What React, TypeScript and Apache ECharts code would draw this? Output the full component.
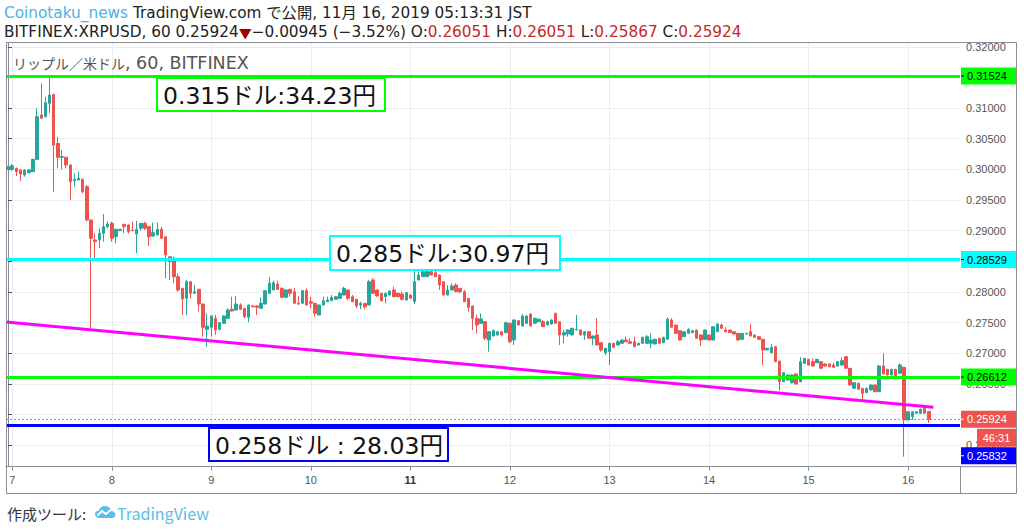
import React, { useEffect, useRef } from "react";
import * as echarts from "echarts";

// ---------- data ----------
const startDay = 6; // first candle: Nov 6, 23:00
const startHour = 23;
const slotCount = 230; // hourly slots visible on the time axis
const dayLabels = ["7", "8", "9", "10", "11", "12", "13", "14", "15", "16"];
const boldDay = "11";
const priceTicks = [0.255, 0.26, 0.265, 0.27, 0.275, 0.28, 0.285, 0.29, 0.295, 0.3, 0.305, 0.31, 0.315, 0.32];
// tick labels fully covered by the coloured price tags in the original
const hiddenTickLabels = [0.26, 0.285, 0.315];
const priceMin = 0.2515;
const priceMax = 0.32062;

// hourly candles: [open, close, low, high]
const candles: number[][] = [
  [0.30001, 0.30044, 0.2999, 0.3006], [0.3, 0.3006, 0.2998, 0.3009], [0.30017, 0.29963, 0.29892, 0.3003],
  [0.2999, 0.29925, 0.29811, 0.3], [0.29909, 0.2999, 0.29881, 0.3], [0.29946, 0.2999, 0.2994, 0.3],
  [0.29963, 0.30164, 0.2996, 0.3017], [0.30164, 0.3086, 0.3015, 0.30996], [0.30887, 0.30833, 0.3082, 0.31404],
  [0.3086, 0.31088, 0.3085, 0.31186], [0.31078, 0.31214, 0.30915, 0.31512], [0.31225, 0.30398, 0.29636, 0.3123],
  [0.30425, 0.30197, 0.30017, 0.30534], [0.30197, 0.30207, 0.30001, 0.30316], [0.30197, 0.30072, 0.30017, 0.3021],
  [0.30072, 0.298, 0.29501, 0.3008], [0.29816, 0.29838, 0.29718, 0.29936], [0.29827, 0.29855, 0.2982, 0.29963],
  [0.29838, 0.29636, 0.29608, 0.2985], [0.29718, 0.29175, 0.2915, 0.29745], [0.29175, 0.28876, 0.27408, 0.2918],
  [0.28848, 0.2882, 0.2855, 0.28957], [0.28848, 0.28957, 0.28713, 0.29039], [0.28957, 0.29066, 0.2882, 0.29272],
  [0.29066, 0.29109, 0.2904, 0.2915], [0.2912, 0.28876, 0.2882, 0.29147], [0.28902, 0.29023, 0.28794, 0.2903],
  [0.29, 0.29023, 0.28995, 0.2903], [0.29104, 0.29066, 0.28957, 0.2911], [0.29093, 0.28984, 0.28957, 0.29104],
  [0.29011, 0.29, 0.2899, 0.29147], [0.28946, 0.29023, 0.28631, 0.29163], [0.29039, 0.2912, 0.29, 0.29125],
  [0.2912, 0.29039, 0.29011, 0.29147], [0.29066, 0.28902, 0.28751, 0.2907], [0.28914, 0.28968, 0.28902, 0.29131],
  [0.2893, 0.29023, 0.2892, 0.29131], [0.29023, 0.28876, 0.2887, 0.29066], [0.28902, 0.28604, 0.28224, 0.2891],
  [0.28576, 0.28495, 0.28196, 0.2858], [0.28549, 0.28249, 0.28142, 0.28576], [0.28249, 0.28033, 0.28005, 0.28305],
  [0.2806, 0.27886, 0.27625, 0.2807], [0.27897, 0.28168, 0.27625, 0.28196], [0.28168, 0.27979, 0.27897, 0.2817],
  [0.27979, 0.28005, 0.2797, 0.28114], [0.28044, 0.27804, 0.27679, 0.2805], [0.27804, 0.27424, 0.27271, 0.2781],
  [0.27391, 0.27445, 0.27108, 0.27652], [0.27424, 0.27609, 0.27271, 0.2762], [0.27571, 0.2738, 0.27299, 0.27625],
  [0.27391, 0.27499, 0.2738, 0.2751], [0.27489, 0.27609, 0.2748, 0.2762], [0.27571, 0.27706, 0.2756, 0.27734],
  [0.27718, 0.2769, 0.2768, 0.27923], [0.27706, 0.27804, 0.277, 0.27935], [0.27788, 0.27718, 0.2771, 0.27816],
  [0.27734, 0.27597, 0.27571, 0.2774], [0.27587, 0.27788, 0.27506, 0.27795], [0.27772, 0.2776, 0.2775, 0.2779],
  [0.27772, 0.2775, 0.27625, 0.2778], [0.27734, 0.27816, 0.2773, 0.27913], [0.27804, 0.28021, 0.278, 0.2803],
  [0.27979, 0.28142, 0.2797, 0.2824], [0.28033, 0.28152, 0.2803, 0.28185], [0.2813, 0.28044, 0.2804, 0.28185],
  [0.2806, 0.27913, 0.2791, 0.28076], [0.27913, 0.28033, 0.27905, 0.2804], [0.28044, 0.27979, 0.27923, 0.2805],
  [0.28005, 0.27816, 0.2781, 0.2806], [0.27816, 0.27804, 0.27788, 0.27935], [0.27816, 0.28021, 0.2781, 0.2803],
  [0.28021, 0.27788, 0.2778, 0.2806], [0.27842, 0.27816, 0.27734, 0.27923], [0.27816, 0.27652, 0.27597, 0.2782],
  [0.27625, 0.27788, 0.2762, 0.27795], [0.27788, 0.27858, 0.2778, 0.27923], [0.27842, 0.2787, 0.27835, 0.27923],
  [0.27858, 0.27913, 0.2785, 0.27951], [0.27881, 0.27923, 0.2787, 0.2793], [0.27897, 0.27979, 0.2789, 0.28005],
  [0.27951, 0.2806, 0.27945, 0.28087], [0.28033, 0.27897, 0.2787, 0.2804], [0.27923, 0.27842, 0.27835, 0.27951],
  [0.27881, 0.27772, 0.27734, 0.27885], [0.27788, 0.27815, 0.27718, 0.27842], [0.27815, 0.2776, 0.27718, 0.2782],
  [0.27788, 0.28168, 0.2778, 0.28196], [0.28196, 0.27979, 0.2797, 0.28223], [0.28033, 0.27935, 0.27923, 0.2804],
  [0.27979, 0.27858, 0.27842, 0.27985], [0.27923, 0.27979, 0.27815, 0.27985], [0.27951, 0.28016, 0.27945, 0.2802],
  [0.28033, 0.27923, 0.27915, 0.28087], [0.27979, 0.27923, 0.27915, 0.27985], [0.27967, 0.27881, 0.27858, 0.28005],
  [0.2787, 0.27989, 0.27865, 0.27995], [0.27951, 0.27897, 0.2789, 0.2796], [0.27842, 0.28168, 0.27804, 0.28468],
  [0.28196, 0.28277, 0.2819, 0.28331], [0.2825, 0.28331, 0.28245, 0.2834], [0.2825, 0.28331, 0.28245, 0.28359],
  [0.28331, 0.28277, 0.2827, 0.2837], [0.28315, 0.2825, 0.28245, 0.28348], [0.28277, 0.28114, 0.28033, 0.2828],
  [0.28168, 0.27951, 0.27945, 0.28175], [0.27951, 0.28033, 0.27945, 0.28114], [0.28033, 0.28098, 0.28025, 0.28142],
  [0.28114, 0.28005, 0.28, 0.28142], [0.2806, 0.28005, 0.27979, 0.28065], [0.28005, 0.27842, 0.27835, 0.28033],
  [0.27897, 0.2775, 0.27679, 0.279], [0.27772, 0.27571, 0.2738, 0.27775], [0.27571, 0.27462, 0.27326, 0.27625],
  [0.27489, 0.2756, 0.2748, 0.2765], [0.27516, 0.27245, 0.27217, 0.2752], [0.27217, 0.27352, 0.27026, 0.2736],
  [0.27282, 0.27369, 0.27275, 0.27391], [0.27299, 0.27352, 0.2729, 0.2736], [0.27352, 0.27299, 0.27271, 0.2736],
  [0.27336, 0.27499, 0.2733, 0.27516], [0.27489, 0.27189, 0.27163, 0.27495], [0.27217, 0.27543, 0.27135, 0.27555],
  [0.27532, 0.27462, 0.27455, 0.2754], [0.27445, 0.27608, 0.2744, 0.27641], [0.27489, 0.27608, 0.2748, 0.27615],
  [0.27641, 0.27445, 0.2744, 0.27652], [0.27489, 0.27571, 0.2748, 0.2758], [0.27516, 0.27555, 0.2751, 0.27571],
  [0.27516, 0.27434, 0.2743, 0.27543], [0.27462, 0.27516, 0.27455, 0.27532], [0.27478, 0.27543, 0.2747, 0.27555],
  [0.27652, 0.27489, 0.2748, 0.27662], [0.27516, 0.27299, 0.27135, 0.2752], [0.27299, 0.27336, 0.27163, 0.2738],
  [0.27315, 0.2738, 0.27271, 0.27391], [0.27299, 0.27408, 0.2729, 0.27415], [0.2738, 0.27391, 0.27375, 0.27625],
  [0.2738, 0.27299, 0.2729, 0.2739], [0.27299, 0.27352, 0.27217, 0.2736], [0.27352, 0.27245, 0.2724, 0.2736],
  [0.27245, 0.27282, 0.27135, 0.2729], [0.27299, 0.27135, 0.2713, 0.27571], [0.27173, 0.27054, 0.27026, 0.2718],
  [0.2701, 0.27081, 0.26972, 0.2709], [0.27026, 0.27163, 0.26809, 0.2717], [0.27163, 0.27098, 0.2709, 0.2717],
  [0.27135, 0.27189, 0.2713, 0.27217], [0.27163, 0.27217, 0.27155, 0.27225], [0.27217, 0.27189, 0.2718, 0.27271],
  [0.27189, 0.27163, 0.27155, 0.27245], [0.27189, 0.27108, 0.271, 0.27271], [0.27135, 0.27163, 0.2713, 0.2717],
  [0.27163, 0.27261, 0.27155, 0.2727], [0.27163, 0.27271, 0.27155, 0.27299], [0.27163, 0.27217, 0.27081, 0.27326],
  [0.27152, 0.27228, 0.27145, 0.2724], [0.27245, 0.27163, 0.27155, 0.2725], [0.27173, 0.27261, 0.27165, 0.2727],
  [0.27228, 0.27555, 0.2722, 0.27587], [0.27543, 0.27424, 0.27415, 0.27571], [0.27462, 0.27326, 0.2732, 0.2747],
  [0.27369, 0.27217, 0.27206, 0.27375], [0.27271, 0.27352, 0.27265, 0.2736], [0.27326, 0.27391, 0.2732, 0.27408],
  [0.27336, 0.27369, 0.2733, 0.27375], [0.2738, 0.27245, 0.2724, 0.27385], [0.27299, 0.27217, 0.27119, 0.27305],
  [0.27228, 0.2738, 0.2722, 0.27385], [0.27299, 0.27217, 0.2721, 0.27305], [0.27217, 0.27434, 0.2721, 0.2744],
  [0.27352, 0.27478, 0.27345, 0.27489], [0.27462, 0.27408, 0.274, 0.27478], [0.2738, 0.27352, 0.27345, 0.27424],
  [0.2738, 0.27336, 0.2733, 0.27385], [0.27352, 0.27315, 0.2731, 0.2736], [0.27326, 0.27217, 0.2721, 0.2733],
  [0.27228, 0.27326, 0.2722, 0.2733], [0.27315, 0.27326, 0.27305, 0.2733], [0.27352, 0.27282, 0.27275, 0.27478],
  [0.27299, 0.27261, 0.27255, 0.27305], [0.27271, 0.27228, 0.2722, 0.27275], [0.27228, 0.27054, 0.26809, 0.27235],
  [0.27054, 0.27081, 0.2705, 0.2709], [0.2701, 0.27098, 0.27, 0.27152], [0.27108, 0.26863, 0.26855, 0.27115],
  [0.26874, 0.26537, 0.2639, 0.2688], [0.26537, 0.26684, 0.2653, 0.2669], [0.26564, 0.26646, 0.26555, 0.26655],
  [0.2652, 0.26646, 0.2651, 0.26655], [0.26662, 0.26499, 0.2649, 0.2667], [0.26537, 0.26863, 0.2653, 0.26935],
  [0.26837, 0.26918, 0.2683, 0.26925], [0.26901, 0.26809, 0.268, 0.2691], [0.26863, 0.26793, 0.26785, 0.26918],
  [0.26847, 0.26901, 0.2684, 0.2691], [0.26863, 0.26755, 0.2675, 0.2687], [0.26826, 0.26793, 0.26785, 0.26835],
  [0.26826, 0.26781, 0.26775, 0.26835], [0.26809, 0.26771, 0.26765, 0.26847], [0.26793, 0.26863, 0.26785, 0.2687],
  [0.26809, 0.2688, 0.268, 0.26935], [0.26945, 0.26755, 0.2675, 0.26956], [0.26755, 0.26483, 0.26475, 0.2676],
  [0.26429, 0.2652, 0.2642, 0.2653], [0.2651, 0.26413, 0.26405, 0.2652], [0.26429, 0.26347, 0.26249, 0.26435],
  [0.26357, 0.26429, 0.2635, 0.26435], [0.26401, 0.26483, 0.26395, 0.2649], [0.26483, 0.26374, 0.26365, 0.2649],
  [0.26374, 0.26793, 0.26365, 0.26809], [0.26793, 0.26662, 0.26655, 0.27], [0.26739, 0.26646, 0.2664, 0.26745],
  [0.26646, 0.26739, 0.2664, 0.26745], [0.26739, 0.2663, 0.26625, 0.26745], [0.26674, 0.26809, 0.26665, 0.26837],
  [0.26771, 0.25912, 0.25313, 0.2678], [0.25912, 0.26047, 0.25905, 0.26055], [0.25966, 0.26047, 0.25912, 0.26055],
  [0.26021, 0.26047, 0.26015, 0.26055], [0.26021, 0.26086, 0.26015, 0.26103], [0.26103, 0.26021, 0.26015, 0.26119],
  [0.26051, 0.25924, 0.25867, 0.26051],
];

const levels = [
  { value: 0.31524, color: "#00ff00", text: "#000000" },
  { value: 0.28529, color: "#00ffff", text: "#000000" },
  { value: 0.26612, color: "#00ff00", text: "#000000" },
  { value: 0.25832, color: "#0000ff", text: "#ffffff" },
];
const lastPrice = 0.25924;
const countdown = "46:31";
const trendX = [-0.5, 223.1];
const trendY = [0.27511, 0.26119];

const notes = [
  { text: "0.315ドル:34.23円", color: "#00ff00" },
  { text: "0.285ドル:30.97円", color: "#00ffff" },
  { text: "0.258ドル : 28.03円", color: "#0000ff" },
];

const headerLine1 = "{u|Coinotaku_news} TradingView.com で公開, 11月 16, 2019 05:13:31 JST";
const headerLine2 =
  "BITFINEX:XRPUSD, 60 0.25924{d|▼}−0.00945 (−3.52%) O:{r|0.26051} H:{r|0.26051} L:{r|0.25867} C:{r|0.25924}";
const legendName = "リップル／米ドル";
const legendRest = ", 60, BITFINEX";
const footerText = "作成ツール:";
const footerBrand = "TradingView";

// ---------- styling ----------
const UP = "#26a69a";
const DOWN = "#ef5350";
const FRAME = "#8a8d96";
const GRIDC = "#e8eef4";
const fontJP = "'Noto Sans CJK JP', 'Noto Sans', sans-serif";
const fontMix = "'DejaVu Sans', 'Noto Sans CJK JP', sans-serif";
const fontUI = "'Liberation Sans', Arial, sans-serif";

echarts.graphic.registerShape(
  "tvlogo",
  echarts.graphic.extendPath(
    "M5 14 C2 14 0 12 0 9.5 C0 7 2 5.2 4.5 5.5 C5.5 2 8.5 0 12 0 C15.5 0 18.5 2.5 19 6 C21.5 6 24 8 24 10.5 C24 12.5 22.5 14 20 14 Z",
    {}
  )
);

const isDayStart = (i: number) => (startHour + i) % 24 === 0;
const dayOf = (i: number) => startDay + Math.floor((startHour + i) / 24);

const categories = Array.from({ length: slotCount }, (_, i) => {
  const h = (startHour + i) % 24;
  return `${dayOf(i)}日 ${String(h).padStart(2, "0")}:00`;
});

export default function App() {
  const ref = useRef<HTMLDivElement>(null);

  useEffect(() => {
    document.body.style.margin = "0";
    const chart = echarts.init(ref.current!, null, { renderer: "svg" });

    const dayIdx = categories.map((_, i) => i).filter(isDayStart);
    const labelTicks = priceTicks.filter((v) => !hiddenTickLabels.some((h) => Math.abs(h - v) < 1e-9));

    const option: any = {
      animation: false,
      backgroundColor: "#ffffff",
      grid: { left: 6, right: 64, top: 43, bottom: 63.3 },
      xAxis: [
        {
          type: "category",
          data: categories,
          boundaryGap: true,
          axisLine: { show: true, lineStyle: { color: FRAME, width: 1 } },
          axisTick: {
            show: true,
            alignWithLabel: true,
            interval: (i: number) => isDayStart(i),
            length: 4,
            lineStyle: { color: FRAME },
          },
          axisLabel: {
            interval: (i: number) => isDayStart(i),
            formatter: (_v: string, i: number) => {
              const s = dayLabels[dayOf(i) - 7] ?? "";
              return s === boldDay ? `{b|${s}}` : s;
            },
            color: "#555",
            fontSize: 11,
            fontFamily: fontUI,
            margin: 8,
            rich: { b: { fontWeight: "bold", color: "#333", fontSize: 11, fontFamily: fontUI } },
          },
          splitLine: { show: false },
        },
        { type: "value", min: -0.5, max: slotCount - 0.5, show: false },
      ],
      yAxis: {
        type: "value",
        position: "right",
        min: priceMin,
        max: priceMax,
        axisLine: { show: true, lineStyle: { color: FRAME } },
        axisTick: { show: true, length: 4, customValues: priceTicks, lineStyle: { color: "#555" } },
        axisLabel: {
          customValues: labelTicks,
          formatter: (v: number) => v.toFixed(5),
          color: "#555",
          fontSize: 11,
          fontFamily: fontUI,
          margin: 6,
        },
        splitLine: { show: false },
      },
      series: [
        {
          type: "candlestick",
          data: candles,
          barWidth: 3,
          z: 2,
          itemStyle: { color: UP, color0: DOWN, borderColor: UP, borderColor0: DOWN, borderWidth: 1 },
          markLine: {
            silent: true,
            z: 5,
            precision: 6,
            symbol: ["none", "none"],
            label: { show: false },
            data: [
              ...levels.map((l) => ({ yAxis: l.value, lineStyle: { color: l.color, width: 3, type: "solid", opacity: 1 } })),
              { yAxis: lastPrice, lineStyle: { color: DOWN, width: 1, type: [2, 2], opacity: 0.85 } },
            ],
          },
        },
        {
          type: "line",
          xAxisIndex: 1,
          yAxisIndex: 0,
          z: 6,
          symbol: "none",
          data: [
            [trendX[0], trendY[0]],
            [trendX[1], trendY[1]],
          ],
          lineStyle: { color: "#ff00ff", width: 3 },
          markLine: {
            silent: true,
            z: 0,
            precision: 6,
            symbol: ["none", "none"],
            label: { show: false },
            lineStyle: { color: GRIDC, width: 1, type: "solid" },
            data: [...priceTicks.map((v) => ({ yAxis: v })), ...dayIdx.map((i) => ({ xAxis: i }))],
          },
        },
      ],
    };
    chart.setOption(option);

    const py = (v: number) => chart.convertToPixel({ yAxisIndex: 0 }, v) as number;
    const g: any[] = [];
    const Z = 100;

    // frame
    const frameLines = [
      [6, 42.5, 1016.5, 42.5],
      [6.5, 42.5, 6.5, 493.5],
      [1016.5, 42.5, 1016.5, 493.5],
      [6, 493.5, 1016.5, 493.5],
      [960, 466.7, 1016.5, 466.7],
      [960.5, 466, 960.5, 493.5],
    ];
    frameLines.forEach(([x1, y1, x2, y2]) =>
      g.push({ type: "line", z: Z, shape: { x1, y1, x2, y2 }, style: { stroke: FRAME, lineWidth: 1 } })
    );

    // price-axis label boxes
    const priceBox = (y: number, val: string, bg: string, fg: string) => {
      g.push({ type: "rect", z: Z + 1, shape: { x: 961, y: y - 8.5, width: 55, height: 17 }, style: { fill: bg } });
      g.push({ type: "line", z: Z + 2, shape: { x1: 961, y1: y, x2: 964, y2: y }, style: { stroke: fg, lineWidth: 1 } });
      g.push({
        type: "text",
        z: Z + 2,
        style: { x: 967, y, text: val, fill: fg, fontSize: 11, fontFamily: fontUI, verticalAlign: "middle" },
      });
    };
    const lp = py(lastPrice);
    levels.forEach((l) => {
      let y = py(l.value);
      if (Math.abs(y - lp) < 17) y = lp + 36.5; // pushed below the countdown tag
      priceBox(y, l.value.toFixed(5), l.color, l.text);
    });
    priceBox(lp, lastPrice.toFixed(5), DOWN, "#ffffff");
    g.push({ type: "rect", z: Z + 1, shape: { x: 977, y: lp + 9.5, width: 39, height: 18 }, style: { fill: DOWN } });
    g.push({
      type: "text",
      z: Z + 2,
      style: { x: 996.5, y: lp + 18.5, text: countdown, fill: "#fff", fontSize: 11, fontFamily: fontUI, align: "center", verticalAlign: "middle" },
    });

    // annotation boxes
    const noteBoxes = [
      { x: 157, y: 78, w: 228, h: 33 },
      { x: 330, y: 236, w: 230, h: 34 },
      { x: 209, y: 428, w: 239, h: 33 },
    ];
    notes.forEach((n, k) => {
      const b = noteBoxes[k];
      g.push({ type: "rect", z: Z, shape: { x: b.x, y: b.y, width: b.w, height: b.h }, style: { fill: "#fff", stroke: n.color, lineWidth: 2 } });
      g.push({
        type: "text",
        z: Z + 1,
        style: { x: b.x + 6, y: b.y + b.h / 2 + 1, text: n.text, fill: "#111", fontSize: 23.5, fontFamily: fontMix, verticalAlign: "middle" },
      });
    });

    // legend inside pane
    g.push({
      type: "text",
      z: Z,
      style: {
        x: 13, y: 63, text: `{j|${legendName}}{l|${legendRest}}`, fill: "#555", verticalAlign: "middle",
        rich: {
          j: { fill: "#555", color: "#555", fontSize: 14, fontFamily: fontJP },
          l: { fill: "#555", color: "#555", fontSize: 17.5, fontFamily: fontMix },
        },
      },
    });

    // header
    g.push({
      type: "text",
      z: Z,
      style: {
        x: 4, y: 13, text: headerLine1, fill: "#222", fontSize: 15.3, fontFamily: fontMix, verticalAlign: "middle",
        rich: { u: { fill: "#4fb1e6", color: "#4fb1e6", fontSize: 15.3, fontFamily: fontMix } },
      },
    });
    g.push({
      type: "text",
      z: Z,
      style: {
        x: 4, y: 32, text: headerLine2, fill: "#222", fontSize: 15.3, fontFamily: fontMix, verticalAlign: "middle",
        rich: {
          r: { fill: "#c62828", color: "#c62828", fontSize: 15.3, fontFamily: fontMix },
          d: { fill: "#a00000", color: "#a00000", fontSize: 13, fontFamily: fontJP },
        },
      },
    });

    // footer
    g.push({
      type: "text",
      z: Z,
      style: { x: 7, y: 513, text: footerText, fill: "#333", fontSize: 15, fontFamily: fontJP, verticalAlign: "middle" },
    });
    g.push({ type: "tvlogo", z: Z, x: 95, y: 506, scaleX: 0.85, scaleY: 0.85, style: { fill: "#5bbde8" } });
    g.push({
      type: "polyline",
      z: Z + 1,
      shape: { points: [[97.5, 515.5], [102, 511], [106, 514], [112.5, 508.5]] },
      style: { stroke: "#fff", lineWidth: 1.8, fill: null },
    });
    g.push({
      type: "text",
      z: Z,
      style: { x: 117, y: 513, text: footerBrand, fill: "#5bbde8", fontSize: 16, fontFamily: fontJP, verticalAlign: "middle" },
    });

    chart.setOption({ graphic: g });

    return () => chart.dispose();
  }, []);

  return <div ref={ref} style={{ width: 1024, height: 530 }} />;
}
